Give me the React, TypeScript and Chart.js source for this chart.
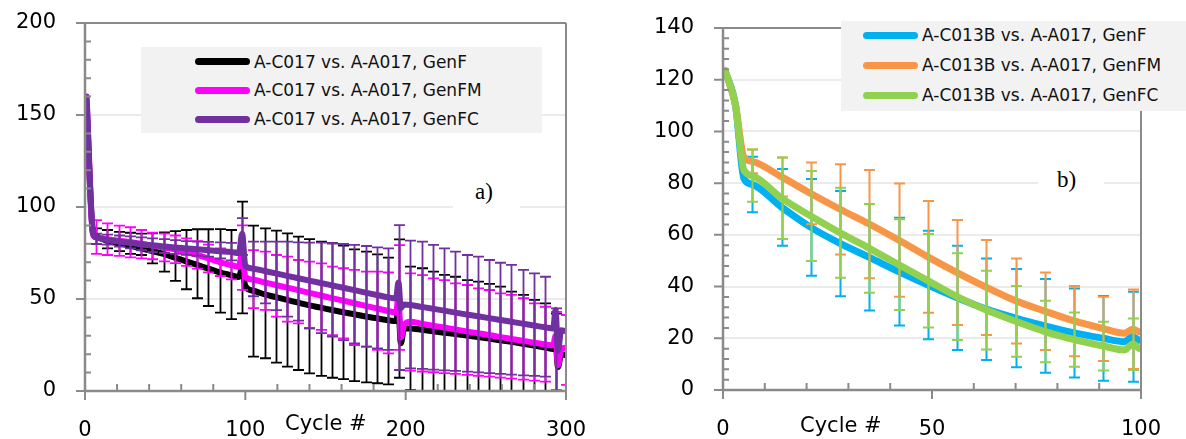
import React, { useEffect, useRef } from "react";
import { Chart, registerables } from "chart.js";

Chart.register(...registerables);

// ---------------- Panel a) data ----------------
const namesL = ["A-C017 vs. A-A017, GenF", "A-C017 vs. A-A017, GenFM", "A-C017 vs. A-A017, GenFC"];
const colorsL = ["#000000", "#ff00ff", "#7030a0"];

const cyclesL = [1, 5, 7, 14, 21, 28, 35, 42, 49, 56, 63, 70, 77, 84, 91, 96, 98, 100, 105, 112, 119, 126, 133, 140, 147, 154, 161, 168, 175, 182, 189, 194, 195.5, 197, 199, 203, 210, 217, 224, 231, 238, 245, 252, 259, 266, 273, 280, 287, 292, 293.5, 295, 297, 300];
const genF_L = [155, 86, 84, 81.5, 80.3, 79, 77.5, 76, 74.5, 72.5, 70.5, 68.5, 66.5, 64.5, 63, 62, 67, 57, 54.5, 52.5, 51, 49.5, 48, 46.5, 45.3, 44, 42.8, 41.7, 40.5, 39.5, 38.5, 38, 44, 26, 34, 34, 33.3, 32.5, 31.7, 30.9, 30.1, 29.3, 28.5, 27.6, 26.7, 25.7, 24.7, 23.6, 22.8, 26, 13, 20, 19.5];
const genFM_L = [158, 85, 83.5, 82.5, 81.7, 81, 80, 79, 78, 77, 75.5, 74, 72, 70, 68.5, 67.5, 76, 62, 60.5, 59, 57.6, 56.2, 54.8, 53.3, 51.9, 50.5, 49.1, 47.7, 46.3, 44.9, 43.5, 42.7, 51, 29, 36, 37.7, 36.6, 35.5, 34.5, 33.5, 32.4, 31.4, 30.4, 29.3, 28.3, 27.3, 26.3, 25.3, 24.8, 30, 14, 23, 23.5];
const genFC_L = [160, 86, 83.5, 82, 81.2, 80.5, 79.8, 79.2, 78.6, 78, 77.5, 77, 76.5, 76, 75.5, 75, 85.5, 68, 66.5, 65.2, 63.9, 62.6, 61.3, 60, 58.7, 57.4, 56.1, 54.8, 53.5, 52.2, 50.9, 50.3, 59, 45, 47, 46.7, 45.7, 44.7, 43.7, 42.6, 41.6, 40.6, 39.6, 38.6, 37.6, 36.6, 35.6, 34.6, 34, 44, 22, 33, 32.5];

// error bars (upper / lower ends)
const errCyclesL = [7, 14, 21, 28, 35, 42, 49, 56, 63, 70, 77, 84, 91, 98, 105, 112, 119, 126, 133, 140, 147, 154, 161, 168, 175, 182, 189, 196, 203, 210, 217, 224, 231, 238, 245, 252, 259, 266, 273, 280, 287, 294, 300];
const genF_L_hi = [88.4, 87.5, 86.5, 86, 85.5, 85.7, 86.2, 86.9, 87.5, 87.9, 87.9, 88, 87.5, 102.9, 89.9, 88.4, 87.2, 85.7, 83.9, 82.5, 81.2, 80.3, 79, 77, 75.8, 74.3, 72.5, 82.4, 67.6, 66.7, 64.9, 63.1, 62.1, 60.3, 59.4, 58.2, 56.7, 54, 52.2, 49.5, 47.6, 42, null];
const genF_L_lo = [80, 77.5, 76, 74.5, 73.9, 69.4, 64.9, 59.9, 55.3, 50.4, 46.2, 42.6, 39.1, 42.2, 18.7, 17.8, 15.4, 13.2, 11.4, 9.6, 8.2, 7.2, 6.4, 5.4, 4.7, 4.2, 3.6, 7.2, 0.5, 0, -0.5, -0.8, -0.5, -0.5, -0.8, -0.8, -0.5, -0.5, -0.5, -0.5, -0.4, -2, null];
const genFM_L_hi = [92.9, 91.1, 89.9, 89, 87.5, 86, 85.5, 84.5, 83, 81.5, 79.5, 77.5, 76.3, 90, 76.6, 75.7, 73.9, 73, 71.2, 70.3, 69.4, 67.6, 66.7, 65.8, 64.9, 64.9, 64.4, 79.3, 63.9, 63, 61.2, 60.3, 58.5, 57.6, 55.8, 54.9, 53.1, 52.2, 50.4, 47.6, 45.8, 43, 41.3];
const genFM_L_lo = [74.5, 73.9, 73.4, 72.6, 72.1, 71.6, 70.5, 69.5, 68, 66.5, 64.5, 62.5, 60.7, 55, 45, 44.1, 40.4, 37.7, 36.8, 34.1, 33.2, 30.4, 28.6, 25, 24.1, 22.3, 20.4, 22.3, 11.1, 10.6, 10.2, 9.7, 9.3, 8.8, 8.3, 7.8, 7.3, 6.7, 6.2, 5.6, 5.1, 0, 3.3];
const genFC_L_hi = [85.5, 85, 84.5, 84, 83.5, 83, 82.5, 82, 81.5, 81.2, 81, 80.8, 80.5, 94, 81.2, 81.2, 81.2, 81.2, 80.8, 80.6, 80.6, 80.3, 79.9, 79.4, 78.8, 78.1, 77.5, 90.2, 81.7, 81.2, 79.4, 77.5, 75.7, 73.9, 73, 71.2, 69.7, 68.5, 65.8, 63.9, 62.1, 44.9, null];
const genFC_L_lo = [80, 79.5, 78.5, 77.5, 76.5, 75.5, 75, 74.5, 74, 73.5, 73, 72, 71, 74, 51.5, 47.6, 44, 40.4, 38.2, 34.1, 31.4, 29.5, 27.7, 25.9, 24.1, 23.2, 22.3, 11.4, 12.3, 12, 11.6, 11.2, 10.9, 10.5, 10.1, 9.7, 9.3, 8.9, 8.5, 8.2, 7.8, 0.5, null];

const yTicksL = [0, 50, 100, 150, 200];
const xTicksL = [0, 100, 200, 300];

// ---------------- Panel b) data ----------------
const namesR = ["A-C013B vs. A-A017, GenF", "A-C013B vs. A-A017, GenFM", "A-C013B vs. A-A017, GenFC"];
const colorsR = ["#00b0f0", "#f79646", "#92d050"];

const cyclesR = [0.5, 3, 5, 7, 14, 21, 28, 35, 42, 49, 56, 63, 70, 77, 84, 91, 96, 98, 99.5];
const genF_R = [123.5, 110, 81.8, 79.5, 70.7, 62.9, 56.7, 51.3, 45.8, 40.6, 35.7, 31.3, 27.8, 24.8, 22.1, 20, 18.7, 20.6, 19.3];
const genFM_R = [123.5, 110, 90, 88.4, 82.4, 76, 69.9, 64.2, 58, 51.5, 45.4, 39.7, 34.5, 30.5, 26.7, 23.7, 21.9, 23.5, 22.5];
const genFC_R = [123.5, 110, 85, 82.9, 74.2, 67.3, 60.8, 54.8, 48.5, 42.3, 36.1, 30.9, 26.6, 22.6, 19.5, 17, 15.5, 17.7, 16.1];

const errCyclesR = [7, 14, 21, 28, 35, 42, 49, 56, 63, 70, 77, 84, 91, 98];
const genF_R_hi = [90.2, 85.5, 81.6, 77, 71.9, 66.6, 61.6, 55.8, 50.9, 46.8, 42.9, 39.3, 36.4, 38];
const genF_R_lo = [68.7, 55.8, 44.2, 36.3, 30.7, 24.9, 19.6, 15.5, 11.6, 8.8, 6.7, 4.8, 3.6, 3.2];
const genFM_R_hi = [93, 89.9, 88, 87.3, 85.1, 79.9, 73.1, 65.7, 58, 50.9, 45.4, 40.2, 36.1, 38.9];
const genFM_R_lo = [83.8, 74.8, 64.1, 52.4, 43.2, 36.1, 29.9, 25.1, 21.3, 18, 15.5, 13.1, 11.2, 8.1];
const genFC_R_hi = [93, 89.9, 84.7, 78.2, 71.9, 66, 60.3, 52.9, 46.1, 40.2, 34.5, 30, 26.4, 27.7];
const genFC_R_lo = [72.8, 58.4, 49.9, 43.4, 37.6, 30.9, 24.2, 19.3, 15.7, 12.9, 10.7, 9, 7.5, 7.7];

const yTicksR = [0, 20, 40, 60, 80, 100, 120, 140];
const xTicksR = [0, 50, 100];

// ---------------- styling ----------------
const FONT = '"DejaVu Sans", sans-serif';
const AXIS = "#8a8a8a";
const GRID = "#ebebeb";

const errorBarPlugin = {
  id: "errorBars",
  beforeDatasetDraw(chart: any, args: any) {
    const ds = chart.data.datasets[args.index];
    const eb = ds.errorBars;
    if (!eb) return;
    const { ctx, chartArea: a, scales } = chart;
    ctx.save();
    ctx.beginPath();
    ctx.rect(a.left, a.top, a.right - a.left, a.bottom - a.top + 1);
    ctx.clip();
    ctx.strokeStyle = ds.borderColor;
    ctx.lineWidth = eb.width;
    ctx.lineCap = "butt";
    for (let i = 0; i < eb.x.length; i++) {
      if (eb.hi[i] == null || eb.lo[i] == null) continue;
      const px = Math.round(scales.x.getPixelForValue(eb.x[i])) + 0.5;
      const y1 = scales.y.getPixelForValue(eb.hi[i]);
      const y2 = scales.y.getPixelForValue(eb.lo[i]);
      ctx.beginPath();
      ctx.moveTo(px, y1);
      ctx.lineTo(px, y2);
      ctx.moveTo(px - eb.cap, y1);
      ctx.lineTo(px + eb.cap, y1);
      ctx.moveTo(px - eb.cap, y2);
      ctx.lineTo(px + eb.cap, y2);
      ctx.stroke();
    }
    ctx.restore();
  },
};

function framePlugin(cfg: any) {
  return {
    id: "frame",
    afterDraw(chart: any) {
      const { ctx, chartArea: a, scales } = chart;
      ctx.save();
      ctx.strokeStyle = AXIS;
      ctx.lineWidth = 2;
      ctx.lineCap = "butt";
      ctx.beginPath();
      ctx.moveTo(a.left, a.top);
      ctx.lineTo(a.right, a.top);
      ctx.moveTo(a.right, a.top);
      ctx.lineTo(a.right, a.bottom);
      ctx.stroke();
      ctx.lineWidth = 2.5;
      ctx.beginPath();
      ctx.moveTo(a.left, a.top - 1);
      ctx.lineTo(a.left, a.bottom + 1);
      ctx.moveTo(a.left, a.bottom);
      ctx.lineTo(a.right, a.bottom);
      ctx.stroke();
      ctx.lineWidth = 2;
      ctx.beginPath();
      for (let v = cfg.yMin; v <= cfg.yMax + 1e-9; v += cfg.yMinor) {
        const py = scales.y.getPixelForValue(v);
        const major = Math.abs(v / cfg.yMajor - Math.round(v / cfg.yMajor)) < 1e-6;
        if (major) {
          ctx.moveTo(a.left - 9, py);
          ctx.lineTo(a.left, py);
        } else {
          ctx.moveTo(a.left, py);
          ctx.lineTo(a.left + 6, py);
        }
      }
      for (let v = cfg.xMin; v <= cfg.xMax + 1e-9; v += cfg.xMinor) {
        const px = scales.x.getPixelForValue(v);
        const major = Math.abs(v / cfg.xMajor - Math.round(v / cfg.xMajor)) < 1e-6;
        if (major) {
          ctx.moveTo(px, a.bottom);
          ctx.lineTo(px, a.bottom + 9);
        } else {
          ctx.moveTo(px, a.bottom);
          ctx.lineTo(px, a.bottom - 7);
        }
      }
      ctx.stroke();
      ctx.restore();
    },
  };
}

function makeSeries(cycles: number[], values: number[]) {
  return cycles.map((c, i) => ({ x: c, y: values[i] }));
}

function zeroPad(s: any) {
  s.paddingTop = 0;
  s.paddingBottom = 0;
  s.paddingLeft = 0;
  s.paddingRight = 0;
}

function makeConfig(p: any) {
  return {
    type: "line",
    data: {
      datasets: p.series.map((s: any, i: number) => ({
        label: s.name,
        data: makeSeries(p.cycles, s.values),
        borderColor: s.color,
        backgroundColor: s.color,
        borderWidth: p.lineWidth,
        borderCapStyle: "round",
        borderJoinStyle: "round",
        cubicInterpolationMode: "monotone",
        pointRadius: 0,
        fill: false,
        order: p.series.length - i,
        errorBars: { x: p.errCycles, hi: s.hi, lo: s.lo, width: p.errWidth, cap: 5.5 },
      })),
    },
    options: {
      animation: false,
      responsive: false,
      maintainAspectRatio: false,
      events: [],
      layout: { padding: p.padding },
      plugins: { legend: { display: false }, tooltip: { enabled: false } },
      scales: {
        x: {
          type: "linear",
          min: p.xTicks[0],
          max: p.xTicks[p.xTicks.length - 1],
          afterBuildTicks: (s: any) => { s.ticks = p.xTicks.map((v: number) => ({ value: v })); },
          ticks: { font: { family: FONT, size: 21 }, color: "#000", padding: 27, maxRotation: 0, autoSkip: false },
          grid: { display: false, drawTicks: false },
          border: { display: false },
          afterFit: (s: any) => { s.height = p.xAxisHeight; zeroPad(s); },
        },
        y: {
          min: p.yTicks[0],
          max: p.yTicks[p.yTicks.length - 1],
          afterBuildTicks: (s: any) => { s.ticks = p.yTicks.map((v: number) => ({ value: v })); },
          ticks: { font: { family: FONT, size: 21 }, color: "#000", padding: 29 },
          grid: {
            drawTicks: false,
            lineWidth: 2,
            color: (c: any) => (c.tick && (c.tick.value === p.yTicks[0] || c.tick.value === p.yTicks[p.yTicks.length - 1]) ? "rgba(0,0,0,0)" : GRID),
          },
          border: { display: false },
          afterFit: (s: any) => { s.width = p.yAxisWidth; zeroPad(s); },
        },
      },
    },
    plugins: [errorBarPlugin, framePlugin(p.frame)],
  };
}

function Legend(props: any) {
  const { left, top, width, height, names, colors, first, gap, swLeft, textLeft } = props;
  return (
    <div style={{ position: "absolute", left, top, width, height, background: "#f2f2f2" }}>
      {names.map((n: string, i: number) => (
        <React.Fragment key={n}>
          <div style={{ position: "absolute", left: swLeft, top: first + i * gap - 3.5, width: 55, height: 7, borderRadius: 3.5, background: colors[i] }} />
          <div style={{ position: "absolute", left: textLeft, top: first + i * gap - 10, height: 20, lineHeight: "20px", fontFamily: FONT, fontSize: 17, color: "#111", whiteSpace: "nowrap" }}>{n}</div>
        </React.Fragment>
      ))}
    </div>
  );
}

export default function App() {
  const leftRef = useRef<HTMLCanvasElement>(null);
  const rightRef = useRef<HTMLCanvasElement>(null);

  useEffect(() => {
    const cl = new Chart(leftRef.current as any, makeConfig({
      cycles: cyclesL,
      errCycles: errCyclesL,
      series: [
        { name: namesL[0], color: colorsL[0], values: genF_L, hi: genF_L_hi, lo: genF_L_lo },
        { name: namesL[1], color: colorsL[1], values: genFM_L, hi: genFM_L_hi, lo: genFM_L_lo },
        { name: namesL[2], color: colorsL[2], values: genFC_L, hi: genFC_L_hi, lo: genFC_L_lo },
      ],
      lineWidth: 6,
      errWidth: 1.8,
      padding: { top: 23, right: 24, left: 0, bottom: 0 },
      xTicks: xTicksL,
      yTicks: yTicksL,
      xAxisHeight: 48,
      yAxisWidth: 85,
      frame: { yMin: 0, yMax: 200, yMajor: 50, yMinor: 10, xMin: 0, xMax: 300, xMajor: 100, xMinor: 20 },
    }) as any);
    const cr = new Chart(rightRef.current as any, makeConfig({
      cycles: cyclesR,
      errCycles: errCyclesR,
      series: [
        { name: namesR[0], color: colorsR[0], values: genF_R, hi: genF_R_hi, lo: genF_R_lo },
        { name: namesR[1], color: colorsR[1], values: genFM_R, hi: genFM_R_hi, lo: genFM_R_lo },
        { name: namesR[2], color: colorsR[2], values: genFC_R, hi: genFC_R_hi, lo: genFC_R_lo },
      ],
      lineWidth: 7,
      errWidth: 2,
      padding: { top: 28, right: 45, left: 0, bottom: 0 },
      xTicks: xTicksR,
      yTicks: yTicksR,
      xAxisHeight: 49,
      yAxisWidth: 83,
      frame: { yMin: 0, yMax: 140, yMajor: 20, yMinor: 4, xMin: 0, xMax: 100, xMajor: 50, xMinor: 10 },
    }) as any);
    return () => {
      cl.destroy();
      cr.destroy();
    };
  }, []);

  const labelStyle: any = { position: "absolute", fontFamily: FONT, fontSize: 21, lineHeight: "21px", color: "#000", whiteSpace: "nowrap" };
  const serif: any = { position: "absolute", fontFamily: '"Liberation Serif", "DejaVu Serif", serif', fontSize: 23, lineHeight: "26px", color: "#000" };

  return (
    <div style={{ position: "fixed", left: 0, top: 0, width: 1186, height: 439, background: "#fff", overflow: "hidden" }}>
      <canvas ref={leftRef} width={590} height={439} style={{ position: "absolute", left: 0, top: 0 }} />
      <canvas ref={rightRef} width={546} height={439} style={{ position: "absolute", left: 640, top: 0 }} />
      <Legend left={141} top={47} width={401} height={86} names={namesL} colors={colorsL} first={14.7} gap={28.7} swLeft={54} textLeft={113} />
      <Legend left={841} top={21} width={345} height={90} names={namesR} colors={colorsR} first={14} gap={30} swLeft={22} textLeft={81} />
      <div style={{ position: "absolute", left: 453, top: 168, width: 67, height: 46, background: "#fff" }} />
      <div style={{ ...serif, left: 475, top: 179 }}>a)</div>
      <div style={{ position: "absolute", left: 1038, top: 160, width: 66, height: 46, background: "#fff" }} />
      <div style={{ ...serif, left: 1057, top: 167 }}>b)</div>
      <div style={{ ...labelStyle, left: 285, top: 413 }}>Cycle #</div>
      <div style={{ ...labelStyle, left: 800, top: 415 }}>Cycle #</div>
    </div>
  );
}
